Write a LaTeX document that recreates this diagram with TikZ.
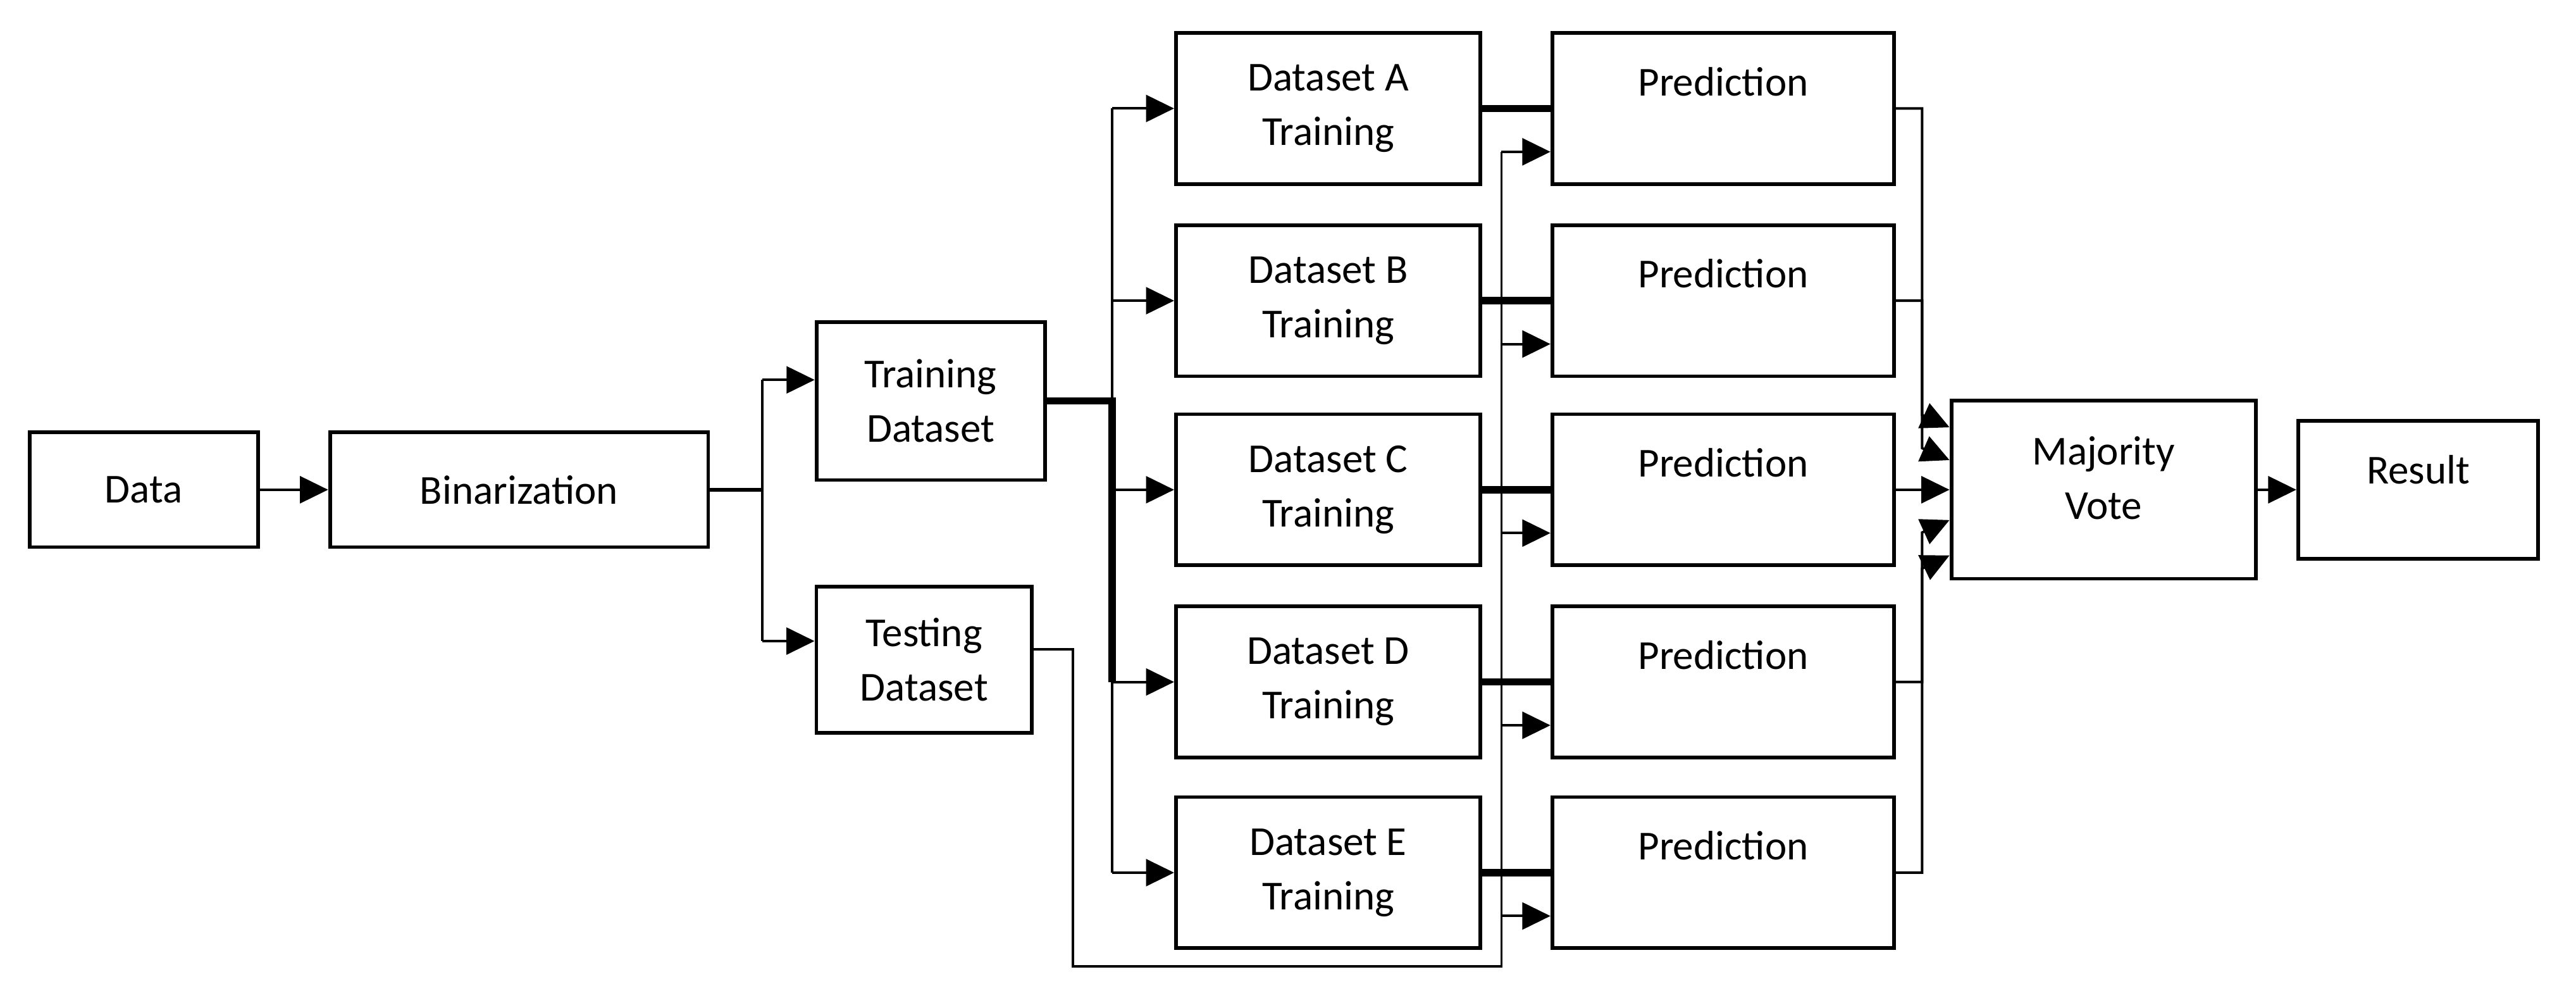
\documentclass[tikz,border=0pt]{standalone}
\usepackage{fontspec}
\setmainfont{Carlito}
\usetikzlibrary{arrows.meta,calc}

\begin{document}
\begin{tikzpicture}[
    box/.style={draw,line width=0.9pt,align=center,inner sep=2pt,font=\fontsize{10}{13.2}\selectfont},
    dset/.style={box,minimum width=2.60cm,minimum height=1.29cm},
    pred/.style={box,minimum width=2.92cm,minimum height=1.29cm},
    link/.style={line width=0.6pt},
    thickline/.style={line width=1.8pt},
    arr/.style={link,-{Triangle[length=0.24cm,width=0.23cm]}}
]
    \useasboundingbox (0,0) rectangle (22.0,8.516);
    % Input stage
    \node[box,minimum width=1.95cm,minimum height=0.98cm] (data) at (1.228,4.335) {Data};
    \node[box,minimum width=3.23cm,minimum height=0.98cm] (bin) at (4.433,4.335) {Binarization};
    \node[box,minimum width=1.95cm,minimum height=1.35cm] (train) at (7.948,5.093) {Training\\Dataset};
    \node[box,minimum width=1.84cm,minimum height=1.25cm] (test) at (7.892,2.883) {Testing\\Dataset};
    % Output stage
    \node[box,minimum width=2.60cm,minimum height=1.52cm] (mv) at (17.965,4.335) {\raisebox{0.2cm}{Majority}\\\raisebox{0.2cm}{Vote}};
    \node[box,minimum width=2.05cm,minimum height=1.18cm] (res) at (20.652,4.335) {\raisebox{0.34cm}{Result}};
    % Five training sets and their predictions
    \foreach \n/\y in {A/7.590,B/5.949,C/4.335,D/2.694,E/1.066} {
        \node[dset] (d\n) at (11.343,\y) {Dataset \n\\Training};
        \node[pred] (p\n) at (14.717,\y) {Prediction\\ \mbox{}};
        \coordinate (t\n) at ($(p\n.west)+(0,-0.37)$);
    }
    % Junctions
    \coordinate (sp1) at (6.510,0);
    \coordinate (sp2) at (9.498,0);
    \coordinate (tv) at (12.823,0);
    \coordinate (vx) at (16.415,0);
    \coordinate (trin) at ($(train.west)+(0,0.18)$);
    \coordinate (tein) at ($(test.west)+(0,0.16)$);

    \draw[arr] (data) -- (bin);
    \draw[line width=0.9pt] (bin.east) -- (sp1 |- bin.east);
    \draw[link] (sp1 |- trin) -- (sp1 |- tein);
    \draw[arr] (sp1 |- trin) -- (trin);
    \draw[arr] (sp1 |- tein) -- (tein);

    % Training data split
    \draw[link] (sp2 |- dA) -- (sp2 |- dE);
    \draw[thickline] (train.east) -| (sp2 |- dD);
    \foreach \n in {A,B,C,D,E} {
        \draw[arr] (sp2 |- d\n) -- (d\n.west);
        \draw[thickline] (d\n.east) -- (p\n.west);
    }
    % Testing data to every prediction
    \draw[link] ($(test.east)+(0,0.09)$) -| (9.162,0.267) -| (tv |- tA);
    \foreach \n in {A,B,C,D,E}
        \draw[arr] (tv |- t\n) -- (t\n);

    % Votes
    \draw[arr] (pA.east) -| ($(vx |- mv)+(0,0.639)$) -- ($(mv.west)+(0,0.533)$);
    \draw[arr] (pB.east) -| ($(vx |- mv)+(0,0.355)$) -- ($(mv.west)+(0,0.253)$);
    \draw[arr] (pC.east) -- (mv.west);
    \draw[arr] (pD.east) -| ($(vx |- mv)+(0,-0.365)$) -- ($(mv.west)+(0,-0.259)$);
    \draw[arr] (pE.east) -| ($(vx |- mv)+(0,-0.673)$) -- ($(mv.west)+(0,-0.561)$);
    \draw[arr] (mv) -- (res);
\end{tikzpicture}
\end{document}
